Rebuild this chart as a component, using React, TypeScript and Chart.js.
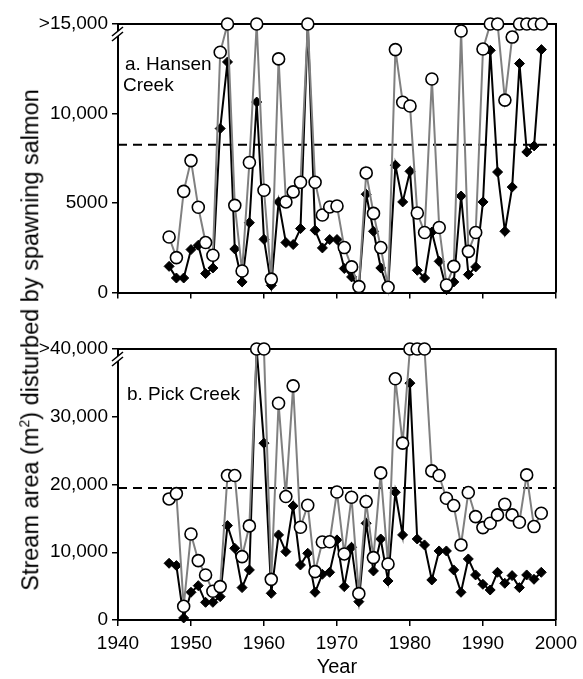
import React, { useEffect, useRef } from "react";
import { Chart, registerables } from "chart.js";

Chart.register(...registerables);

// ---------- data ----------
const years = [
  1947, 1948, 1949, 1950, 1951, 1952, 1953, 1954, 1955, 1956, 1957, 1958, 1959,
  1960, 1961, 1962, 1963, 1964, 1965, 1966, 1967, 1968, 1969, 1970, 1971, 1972,
  1973, 1974, 1975, 1976, 1977, 1978, 1979, 1980, 1981, 1982, 1983, 1984, 1985,
  1986, 1987, 1988, 1989, 1990, 1991, 1992, 1993, 1994, 1995, 1996, 1997, 1998,
];

// a. Hansen Creek (values capped at 15,000 are shown as ">15,000")
const hansenOpen = [
  3100, 1950, 5650, 7370, 4760, 2790, 2080, 13420, 15000, 4870, 1200, 7260, 15000,
  5710, 750, 13050, 5060, 5620, 6160, 15000, 6160, 4330, 4780, 4830, 2510, 1430,
  330, 6680, 4420, 2510, 290, 13570, 10630, 10420, 4440, 3350, 11930, 3630, 420,
  1460, 14610, 2300, 3350, 13600, 15000, 15000, 10750, 14270, 15000, 15000, 15000, 15000,
];
const hansenFilled = [
  1460, 810, 810, 2400, 2640, 1060, 1370, 9160, 12880, 2430, 590, 3900, 10640,
  2970, 400, 5060, 2790, 2680, 3570, 15000, 3480, 2490, 2960, 2960, 1340, 870,
  250, 5490, 3420, 1370, 200, 7110, 5060, 6770, 1240, 810, 3380, 1740, 160,
  590, 5390, 1000, 1430, 5060, 13530, 6730, 3420, 5890, 12790, 7850, 8190, 13570,
];
const hansenThreshold = 8250;

// b. Pick Creek (values capped at 40,000 are shown as ">40,000")
const pickOpen = [
  17870, 18660, 2020, 12700, 8760, 6650, 4240, 4930, 21320, 21320, 9360, 13890, 40000,
  40000, 6000, 32000, 18220, 34560, 13690, 16940, 7140, 11520, 11540, 18900, 9750, 18120,
  3890, 17480, 9210, 21710, 8270, 35600, 26100, 40000, 40000, 40000, 22010, 21320, 17970,
  16890, 11080, 18810, 15260, 13640, 14280, 15510, 17090, 15510, 14430, 21420, 13790, 15760,
];
const pickFilled = [
  8370, 8030, 300, 4090, 5070, 2610, 2610, 3450, 13930, 10590, 4780, 7390, 40000,
  26100, 3940, 12560, 10090, 16840, 8120, 9850, 4090, 6750, 7040, 11820, 4930, 10740,
  2710, 14280, 7240, 11960, 5760, 18860, 12560, 34960, 11960, 11080, 5910, 10190, 10190,
  7390, 4090, 9010, 6650, 5270, 4430, 7040, 5420, 6550, 4780, 6650, 6010, 7040,
];
const pickThreshold = 19500;

const xMin = 1940;
const xMax = 2000;
const xStep = 10;

const hansenYMax = 15000;
const hansenYStep = 5000;
const hansenTickLabels: Record<number, string> = { 0: "0", 5000: "5000", 10000: "10,000", 15000: ">15,000" };

const pickYMax = 40000;
const pickYStep = 10000;
const pickTickLabels: Record<number, string> = {
  0: "0", 10000: "10,000", 20000: "20,000", 30000: "30,000", 40000: ">40,000",
};

const xTitle = "Year";
const hansenLabel = ["a. Hansen", "Creek"];
const pickLabel = ["b. Pick Creek"];

// ---------- styling ----------
const FONT = "Arial, 'Liberation Sans', Helvetica, sans-serif";
const TICK_FONT_SIZE = 19;

const panelPlugin = (lines: string[], lineGap: number, textDx: number, textDy: number) => ({
  id: "panelDecor",
  beforeDatasetsDraw(chart: any) {
    const { ctx, chartArea } = chart;
    const { left, right, top, bottom } = chartArea;
    ctx.save();
    // closing frame: top and right edges
    ctx.strokeStyle = "#000";
    ctx.lineWidth = 2;
    ctx.beginPath();
    ctx.moveTo(left, top);
    ctx.lineTo(right, top);
    ctx.lineTo(right, bottom);
    ctx.stroke();
    // axis break marks
    ctx.fillStyle = "#fff";
    ctx.beginPath();
    ctx.moveTo(left - 6, top + 12);
    ctx.lineTo(left + 5, top + 3);
    ctx.lineTo(left + 5, top + 8);
    ctx.lineTo(left - 6, top + 17);
    ctx.closePath();
    ctx.fill();
    ctx.lineWidth = 1.6;
    ctx.beginPath();
    ctx.moveTo(left - 6, top + 12);
    ctx.lineTo(left + 5, top + 3);
    ctx.moveTo(left - 6, top + 17);
    ctx.lineTo(left + 5, top + 8);
    ctx.stroke();
    // panel label
    ctx.fillStyle = "#000";
    ctx.font = `19px ${FONT}`;
    ctx.textBaseline = "alphabetic";
    ctx.textAlign = "left";
    lines.forEach((t, i) => {
      ctx.fillText(t, left + textDx - (i > 0 ? 2 : 0), top + textDy + i * lineGap);
    });
    ctx.restore();
  },
});

type PanelCfg = {
  open: number[];
  filled: number[];
  threshold: number;
  yMax: number;
  yStep: number;
  tickLabels: Record<number, string>;
  showXLabels: boolean;
  padTop: number;
  xHeight: number;
  label: string[];
  labelDx: number;
  labelDy: number;
};

function makeChart(canvas: HTMLCanvasElement, c: PanelCfg) {
  const openPts = years.map((yr, i) => ({ x: yr, y: c.open[i] }));
  const filledPts = years.map((yr, i) => ({ x: yr, y: c.filled[i] }));
  return new Chart(canvas, {
    type: "line",
    data: {
      datasets: [
        {
          data: openPts,
          borderColor: "#808080",
          borderWidth: 2,
          pointStyle: "circle",
          pointRadius: 6,
          pointBackgroundColor: "#fff",
          pointBorderColor: "#000",
          pointBorderWidth: 1.6,
          tension: 0,
          clip: false,
          order: 1,
        },
        {
          data: filledPts,
          borderColor: "#000",
          borderWidth: 2,
          pointStyle: "rectRot",
          pointRadius: 5,
          pointBackgroundColor: "#000",
          pointBorderColor: "#000",
          pointBorderWidth: 1,
          tension: 0,
          clip: false,
          order: 2,
        },
        {
          data: [
            { x: xMin, y: c.threshold },
            { x: xMax, y: c.threshold },
          ],
          borderColor: "#000",
          borderWidth: 2,
          borderDash: [9, 6],
          pointRadius: 0,
          order: 3,
        },
      ] as any,
    },
    options: {
      animation: false,
      responsive: false,
      maintainAspectRatio: false,
      events: [],
      layout: { padding: { left: 0, right: 27, top: c.padTop, bottom: 0 } },
      plugins: { legend: { display: false }, tooltip: { enabled: false } },
      scales: {
        x: {
          type: "linear",
          min: xMin,
          max: xMax,
          ticks: {
            stepSize: xStep,
            display: c.showXLabels,
            color: "#000",
            padding: 6,
            font: { family: FONT, size: TICK_FONT_SIZE },
            callback: (v: any) => String(v),
          },
          grid: {
            display: true,
            drawOnChartArea: false,
            drawTicks: true,
            tickLength: 6,
            color: "#000",
            lineWidth: 1.5,
          },
          border: { display: true, color: "#000", width: 2 },
          title: {
            display: c.showXLabels,
            text: xTitle,
            color: "#000",
            font: { family: FONT, size: 20 },
            padding: { top: 0, bottom: 0 },
          },
          afterFit: (s: any) => {
            s.height = c.xHeight;
          },
        },
        y: {
          min: 0,
          max: c.yMax,
          ticks: {
            stepSize: c.yStep,
            color: "#000",
            padding: 4,
            font: { family: FONT, size: TICK_FONT_SIZE },
            callback: (v: any) => c.tickLabels[v as number] ?? "",
          },
          grid: {
            display: true,
            drawOnChartArea: false,
            drawTicks: true,
            tickLength: 6,
            color: "#000",
            lineWidth: 1.5,
          },
          border: { display: true, color: "#000", width: 2 },
          afterFit: (s: any) => {
            s.width = 118;
          },
        },
      },
    } as any,
    plugins: [panelPlugin(c.label, 21, c.labelDx, c.labelDy)] as any,
  });
}

export default function App() {
  const topRef = useRef<HTMLCanvasElement>(null);
  const botRef = useRef<HTMLCanvasElement>(null);

  useEffect(() => {
    const a = makeChart(topRef.current!, {
      open: hansenOpen,
      filled: hansenFilled,
      threshold: hansenThreshold,
      yMax: hansenYMax,
      yStep: hansenYStep,
      tickLabels: hansenTickLabels,
      showXLabels: false,
      padTop: 24,
      xHeight: 17.5,
      label: hansenLabel,
      labelDx: 7,
      labelDy: 46,
    });
    const b = makeChart(botRef.current!, {
      open: pickOpen,
      filled: pickFilled,
      threshold: pickThreshold,
      yMax: pickYMax,
      yStep: pickYStep,
      tickLabels: pickTickLabels,
      showXLabels: true,
      padTop: 39,
      xHeight: 59,
      label: pickLabel,
      labelDx: 9,
      labelDy: 51,
    });
    return () => {
      a.destroy();
      b.destroy();
    };
  }, []);

  return (
    <div
      style={{
        position: "fixed",
        left: 0,
        top: 0,
        width: 583,
        height: 679,
        background: "#fff",
        fontFamily: FONT,
      }}
    >
      <canvas
        ref={topRef}
        width={583}
        height={310}
        style={{ position: "absolute", left: 0, top: 0, width: 583, height: 310 }}
      />
      <canvas
        ref={botRef}
        width={583}
        height={369}
        style={{ position: "absolute", left: 0, top: 310, width: 583, height: 369 }}
      />
      <div
        style={{
          position: "absolute",
          left: 31,
          top: 340,
          transform: "translate(-50%, -50%) rotate(-90deg)",
          whiteSpace: "nowrap",
          fontSize: 23.5,
          color: "#000",
          lineHeight: 1,
        }}
      >
        Stream area (m<sup style={{ fontSize: 14, verticalAlign: "top", position: "relative", top: -2 }}>2</sup>) disturbed by spawning salmon
      </div>
    </div>
  );
}
